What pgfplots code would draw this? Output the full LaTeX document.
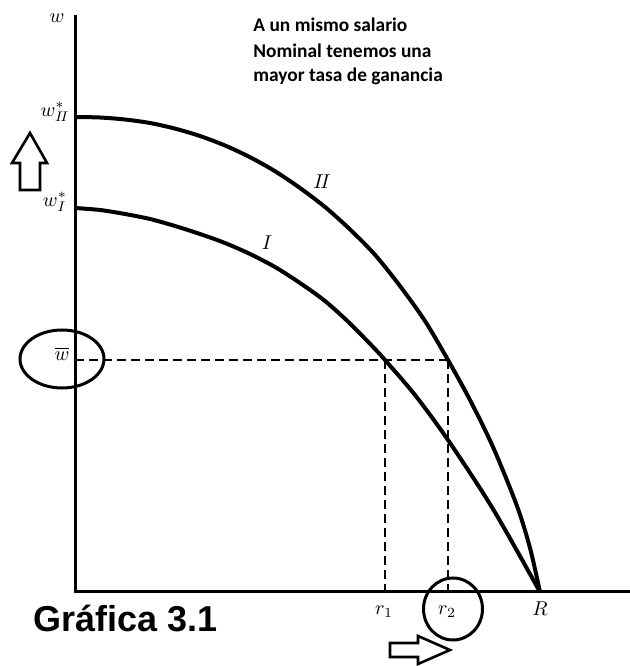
\documentclass[border=0pt]{standalone}
\usepackage{fontspec}
\usepackage{pgfplots}
\pgfplotsset{compat=1.18}
\newfontfamily\notefont{Carlito}
\newfontfamily\titlefont{Liberation Sans}

% Curve I: wage-profit frontier of technique I
\pgfplotstableread{
X Y
0   384
25  382
50  378
75  373
100 366
125 358
150 349
175 338
200 325
225 309
250 291
275 268.5
300 243
310 232
340 197
373 152
418 83
465 0
}\curveI

% Curve II: wage-profit frontier of technique II
\pgfplotstableread{
X Y
0   475
25  474.5
50  472.5
75  469
100 463.4
125 456
150 446.5
175 434.8
200 420.8
225 404
250 385
275 362.6
300 337.2
325 306
350 271
373 232
395 192
418 145
442 86
455 44
465 0
}\curveII

\begin{document}
\begin{tikzpicture}
\begin{axis}[
  hide axis, scale only axis,
  width=315pt, height=333pt,
  xmin=-75, xmax=555, ymin=-74, ymax=592,
  clip=false,
]
\coordinate (ll) at (axis cs:-75,-74);
\coordinate (ur) at (axis cs:555,592);

% axes
\addplot[black, line width=1.5pt, sharp plot] coordinates {(0,577) (0,0) (555,0)};

% frontiers
\addplot[black, line width=2pt, smooth] table[x=X,y=Y] {\curveI};
\addplot[black, line width=2pt, smooth] table[x=X,y=Y] {\curveII};

% common nominal wage and the two profit rates
\addplot[black, line width=1.1pt, dash pattern=on 4.5pt off 2.5pt] coordinates {(0,232) (373,232)};
\addplot[black, line width=1.1pt, dash pattern=on 4.5pt off 2.5pt] coordinates {(310,232) (310,0)};
\addplot[black, line width=1.1pt, dash pattern=on 4.5pt off 2.5pt] coordinates {(373,232) (373,0)};

% labels
\node[font=\fontsize{10}{12}\selectfont] at (axis cs:-18,574) {$w$};
\node[font=\fontsize{10}{12}\selectfont] at (axis cs:-20,480) {$w_{I\!I}^{*}$};
\node[font=\fontsize{10}{12}\selectfont] at (axis cs:-20,390) {$w_{I}^{*}$};
\node[font=\fontsize{10}{12}\selectfont] at (axis cs:-13,238) {$\overline{w}$};
\node[font=\fontsize{10}{12}\selectfont] at (axis cs:309,-20) {$r_1$};
\node[font=\fontsize{10}{12}\selectfont] at (axis cs:372,-20) {$r_2$};
\node[font=\fontsize{10}{12}\selectfont] at (axis cs:465,-17) {$R$};
\node[font=\fontsize{10}{12}\selectfont] at (axis cs:247,410) {$I\!I$};
\node[font=\fontsize{10}{12}\selectfont] at (axis cs:192,349) {$I$};

% highlights
\draw[line width=1.5pt] (axis cs:-13,233) ellipse [x radius=21pt, y radius=14.5pt];
\draw[line width=1.5pt] (axis cs:378,-17) ellipse [x radius=14.75pt, y radius=15.5pt];

% hollow arrows
\draw[line width=1.3pt, line join=miter]
  (axis cs:-55,402) -- (axis cs:-55,429) -- (axis cs:-63,429) -- (axis cs:-45,459)
  -- (axis cs:-28,429) -- (axis cs:-35,429) -- (axis cs:-35,402) -- cycle;
\draw[line width=1.3pt, line join=miter]
  (axis cs:315,-51) -- (axis cs:343,-51) -- (axis cs:343,-44) -- (axis cs:375,-58)
  -- (axis cs:343,-72) -- (axis cs:343,-65) -- (axis cs:315,-65) -- cycle;

% notes
\node[anchor=base west, inner sep=0pt, font=\notefont\bfseries\fontsize{9.7}{12}\selectfont] at (axis cs:178,560) {A un mismo salario};
\node[anchor=base west, inner sep=0pt, font=\notefont\bfseries\fontsize{9.7}{12}\selectfont] at (axis cs:178,535) {Nominal tenemos una};
\node[anchor=base west, inner sep=0pt, font=\notefont\bfseries\fontsize{9.7}{12}\selectfont] at (axis cs:178,510) {mayor tasa de ganancia};
\node[anchor=base west, inner sep=0pt, font=\titlefont\bfseries\fontsize{18}{20}\selectfont] at (axis cs:-42,-40) {Gráfica 3.1};
\end{axis}
\pgfresetboundingbox
\path[use as bounding box] (ll) rectangle (ur);
\end{tikzpicture}
\end{document}
